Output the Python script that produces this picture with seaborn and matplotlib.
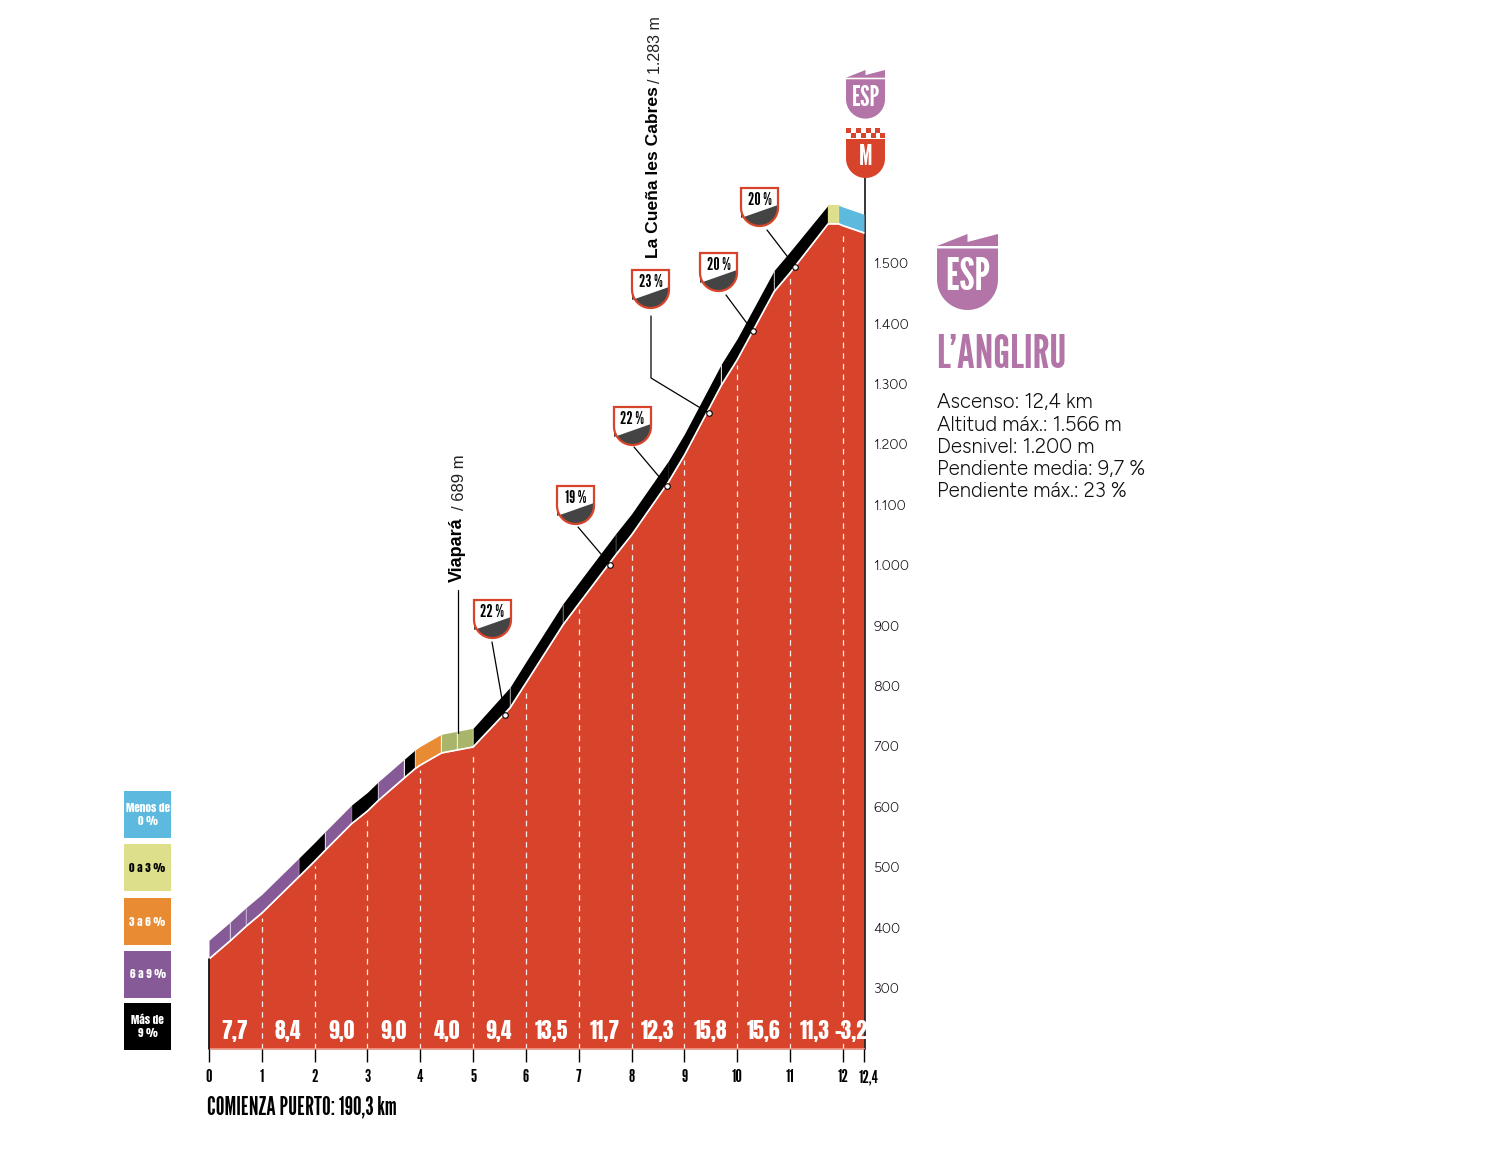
# L'Angliru climb profile

# Importing Libraries
import numpy as np
import pandas as pd
import seaborn as sns
import matplotlib.pyplot as plt
from matplotlib.patches import Polygon, Rectangle
from matplotlib.transforms import ScaledTranslation

# Profile
km = [0, 0.4, 0.7, 1, 1.7, 2, 2.2, 2.7, 3, 3.2, 3.7, 3.9, 4, 4.4, 4.7, 5, 5.7, 6, 6.7, 7, 7.7,
      8, 8.7, 9, 9.7, 10, 10.7, 11, 11.72, 11.92, 12, 12.4]
alt = [348, 378, 402, 424, 484, 510, 528, 572, 593, 610, 648, 663, 669, 689, 694, 699, 764, 805,
       901, 936, 1017, 1050, 1138, 1182, 1298, 1340, 1453, 1484, 1565, 1565, 1562, 1550]
alt_top = [379, 409, 433, 455, 515, 541, 559, 603, 624, 641, 679, 694, 700, 720, 725, 730, 798, 840,
           936, 971, 1052, 1085, 1173, 1217, 1333, 1375, 1488, 1519, 1596, 1596, 1593, 1581]

# Coloured band above the profile
band_km = [0, 0.4, 0.7, 1.7, 2.2, 2.7, 3.2, 3.7, 3.9, 4.4, 4.7, 5, 5.7, 6.7, 7.7, 8.7, 9.7, 10.7,
           11.72, 11.92, 12.4]
band_class = ['p', 'p', 'p', 'k', 'p', 'k', 'p', 'k', 'o', 'g', 'g', 'k', 'k', 'k', 'k', 'k', 'k',
              'k', 'y', 'b']

# Gradient per km
slopes = ['7,7', '8,4', '9,0', '9,0', '4,0', '9,4', '13,5', '11,7', '12,3', '15,8', '15,6', '11,3', '-3,2']
slope_km = [0.48, 1.5, 2.5, 3.49, 4.5, 5.49, 6.49, 7.49, 8.49, 9.49, 10.49, 11.46, 12.15]

# Ticks
x_ticks = [0, 1, 2, 3, 4, 5, 6, 7, 8, 9, 10, 11, 12, 12.4]
x_labels = ['0', '1', '2', '3', '4', '5', '6', '7', '8', '9', '10', '11', '12', '12,4']
y_ticks = [300, 400, 500, 600, 700, 800, 900, 1000, 1100, 1200, 1300, 1400, 1500]
y_labels = ['300', '400', '500', '600', '700', '800', '900', '1.000', '1.100', '1.200', '1.300', '1.400', '1.500']

# Steepest ramps
ramp_text = ['22 %', '19 %', '22 %', '23 %', '20 %', '20 %']
ramp_km = [5.6, 7.6, 8.67, 9.46, 10.3, 11.1]
ramp_alt = [752, 1000, 1131, 1252, 1387, 1494]

# Legend
legend_text = ['Menos de\n0 %', '0 a 3 %', '3 a 6 %', '6 a 9 %', 'Más de\n9 %']
legend_class = ['b', 'y', 'o', 'p', 'k']

stats = ['Ascenso: 12,4 km', 'Altitud máx.: 1.566 m', 'Desnivel: 1.200 m', 'Pendiente media: 9,7 %', 'Pendiente máx.: 23 %']

colors = {'p': '#855A96', 'k': '#000000', 'o': '#E88B33', 'g': '#A9B56B', 'y': '#DEDF8A', 'b': '#5DB9DE'}
RED = '#D8442B'
MAUVE = '#B374A8'
DARK = '#444444'
GOTHIC = ['League Gothic', 'Liberation Sans Narrow', 'DejaVu Sans']
HEAVY = ['Anton', 'League Gothic', 'DejaVu Sans']
BODY = ['Figtree', 'Lato', 'DejaVu Sans']
SANS = ['Liberation Sans', 'DejaVu Sans']
W, H = 1492, 1176

sns.set_theme(style='white')
plt.rcParams['font.family'] = BODY

df = pd.DataFrame({'km': km, 'alt': alt})

fig = plt.figure(figsize=(W / 100, H / 100), dpi=100, facecolor='white')
ax = fig.add_axes([209 / W, (H - 1049) / H, 656 / W, (1049 - 178) / H])
ax.set_xlim(0, 12.42)
ax.set_ylim(199, 1641)
ax.set_facecolor('none')

# Profile
ax.fill_between(km, alt, 199, color=RED, lw=0)
sns.lineplot(data=df, x='km', y='alt', color='white', lw=1.2, ax=ax, zorder=4)
ax.axhline(199, color='#EE9C8C', lw=1.2, zorder=3)
ax.vlines(x_ticks[1:13], 199, [a - 8 for k, a in zip(km, alt) if k in x_ticks[1:13]],
          color='white', lw=0.9, linestyles=(0, (4.5, 4)), alpha=0.9, zorder=2)

# Band
low_at = dict(zip(km, alt))
top_at = dict(zip(km, alt_top))
for a, b, c in zip(band_km[:-1], band_km[1:], band_class):
    xs = [k for k in km if a <= k <= b]
    lows = [low_at[k] + 2 for k in xs]
    highs = [top_at[k] for k in xs]
    ax.fill_between(xs, lows, highs, color=colors[c], lw=0, zorder=3)
    if b < 12.4:
        ax.vlines(b, low_at[b] + 2, top_at[b], color='white', lw=0.9, zorder=3)

for k, s in zip(slope_km, slopes):
    ax.text(k, 229, s, color='white', fontsize=15.5, family=HEAVY, ha='center', va='center')

# Axes
sns.despine(ax=ax, top=True, left=True, bottom=True, right=False)
ax.spines['right'].set_color('black')
ax.spines['right'].set_linewidth(1.1)
ax.plot([0, 0], [199, 348], color='black', lw=1.2, zorder=5, clip_on=False)
ax.set_xticks(x_ticks, x_labels, family=GOTHIC, fontsize=13, color='black')
ax.tick_params(axis='x', length=9.5, width=1, color='black', pad=5, bottom=True)
last = ax.get_xticklabels()[-1]
last.set_transform(last.get_transform() + ScaledTranslation(5 / 100, 0, fig.dpi_scale_trans))
ax.yaxis.tick_right()
ax.set_yticks(y_ticks, y_labels, fontsize=10.3, color='#111111')
ax.tick_params(axis='y', length=0, pad=6)
ax.set_xlabel('')
ax.set_ylabel('')

# Overlay in pixels for the furniture
ov = fig.add_axes([0, 0, 1, 1], facecolor='none')
ov.set_xlim(0, W)
ov.set_ylim(H, 0)
ov.axis('off')


def to_px(x, y):
    p = ax.transData.transform((x, y))
    return ov.transData.inverted().transform(p)


def shield_points(x0, x1, y0, y1):
    # straight sides then a round bottom
    r = (x1 - x0) / 2
    t = np.linspace(0, np.pi, 40)
    xs = (x0 + x1) / 2 + r * np.cos(t)
    ys = y1 - r + r * np.sin(t)
    return np.column_stack([np.r_[x1, xs, x0], np.r_[y0, ys, y0]])


def esp_shield(x0, y0, s, fontsize):
    w = 61 * s
    mid = x0 + w / 2
    ov.add_patch(Polygon([(x0, y0 + 12 * s), (mid, y0), (mid, y0 + 8 * s), (x0 + w, y0), (x0 + w, y0 + 12 * s)],
                         color=MAUVE, lw=0))
    ov.add_patch(Polygon(shield_points(x0, x0 + w, y0 + 14.5 * s, y0 + 76 * s), color=MAUVE, lw=0))
    ov.text(mid, y0 + 43.5 * s, 'ESP', color='white', fontsize=fontsize, family=GOTHIC, ha='center', va='center')


# Finish shields
esp_shield(846, 70, 0.64, 20)
esp_shield(937, 234, 1, 32)
ov.add_patch(Polygon(shield_points(846, 885, 139, 178), color=RED, lw=0))
ov.text(865.5, 157, 'M', color='white', fontsize=20, family=GOTHIC, ha='center', va='center')
for row in range(2):
    for col in range(4):
        ov.add_patch(Rectangle((846 + col * 9.8 + row * 5, 128 + row * 5), 4.9, 5, color=RED, lw=0))

# Title block
ov.text(936, 356, 'L’ANGLIRU', color=MAUVE, fontsize=33.5, family=GOTHIC, ha='left', va='center')
for i, s in enumerate(stats):
    ov.text(937, 403 + i * 22.2, s, color='#111111', fontsize=14.7, ha='left', va='center')

# Ramp callouts
ramp_box = [(474, 600), (557, 486), (614, 407), (632, 270), (700, 253), (741, 188)]
ramp_path = [[(492, 642)], [(578, 527)], [(634, 447)], [(651, 316), (651, 378)], [(726, 295)], [(767, 230)]]
for txt, k, a, box, path in zip(ramp_text, ramp_km, ramp_alt, ramp_box, ramp_path):
    dot = to_px(k, a)
    pts = path + [tuple(dot)]
    ov.plot([p[0] for p in pts], [p[1] for p in pts], color='black', lw=0.9, zorder=5)
    ov.plot(dot[0], dot[1], 'o', ms=4, mfc='white', mec='black', mew=0.8, zorder=6)
    x0, y0 = box
    shape = shield_points(x0, x0 + 37, y0, y0 + 38)
    ov.add_patch(Polygon(shape, fc='white', ec='none', zorder=5))
    low = shape[shape[:, 1] >= y0 + 17]
    cut = Polygon(np.r_[[(x0 + 37, y0 + 17)], low[1:], [(x0, y0 + 30)]], fc=DARK, ec='none', zorder=5)
    ov.add_patch(cut)
    ov.add_patch(Polygon(shape, fc='none', ec=RED, lw=1.6, zorder=6))
    ov.text(x0 + 18.5, y0 + 12, txt, color='black', fontsize=12.5, family=GOTHIC, ha='center', va='center', zorder=7)

# Named passes
ov.plot([458, 458], [590, 733], color='black', lw=0.9)
ov.text(457, 582, 'Viapará', rotation=90, fontsize=13, fontweight='bold', family=SANS, color='black',
        ha='center', va='bottom')
ov.text(460, 510, '/ 689 m', rotation=90, fontsize=12, family=SANS, color='#222222', ha='center', va='bottom')
ov.text(654, 258, 'La Cueña les Cabres', rotation=90, fontsize=12.6, fontweight='bold', family=SANS, color='black',
        ha='center', va='bottom')
ov.text(655, 83, '/ 1.283 m', rotation=90, fontsize=11.5, family=SANS, color='#222222', ha='center', va='bottom')

# Legend
legend_y = [791, 844, 898, 951, 1003]
for y, c, s in zip(legend_y, legend_class, legend_text):
    ov.add_patch(Rectangle((124, y), 47, 47, color=colors[c], lw=0))
    ov.text(147.5, y + 23.5, s, color='black' if c == 'y' else 'white', fontsize=8, family=HEAVY,
            ha='center', va='center', linespacing=1.3)

ov.text(207, 1108, 'COMIENZA PUERTO: 190,3 km', color='black', fontsize=17.5, family=GOTHIC, ha='left', va='center')

fig.savefig('out.png', dpi=100)
